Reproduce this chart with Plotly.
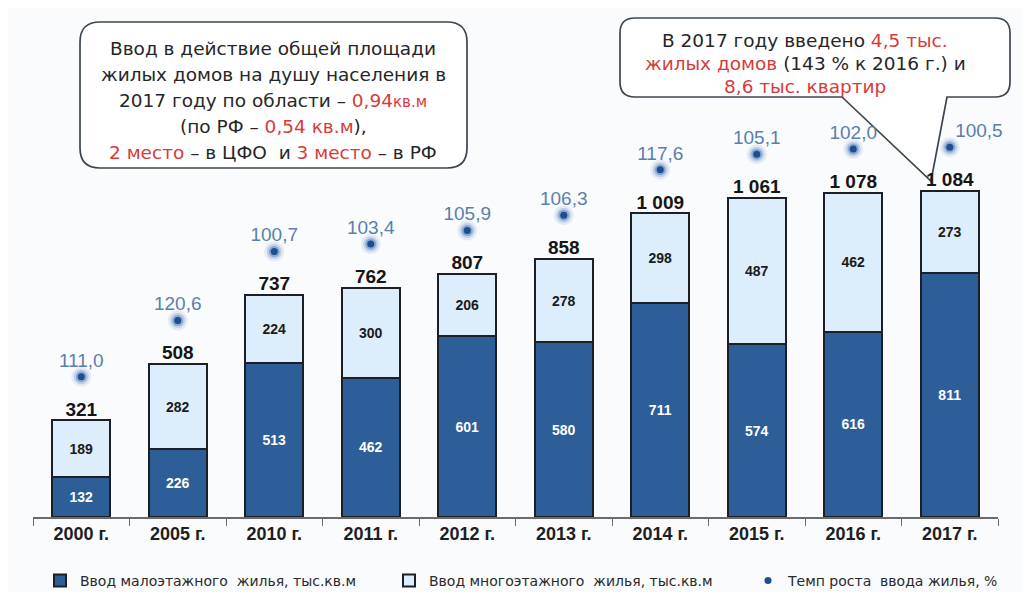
import plotly.graph_objects as go

years = ["2000 г.", "2005 г.", "2010 г.", "2011 г.", "2012 г.",
         "2013 г.", "2014 г.", "2015 г.", "2016 г.", "2017 г."]
low_rise = [132, 226, 513, 462, 601, 580, 711, 574, 616, 811]
multi_storey = [189, 282, 224, 300, 206, 278, 298, 487, 462, 273]
growth = [111.0, 120.6, 100.7, 103.4, 105.9, 106.3, 117.6, 105.1, 102.0, 100.5]

totals = [a + b for a, b in zip(low_rise, multi_storey)]
total_labels = [f"{t:,}".replace(",", " ") for t in totals]
growth_labels = [f"{g:.1f}".replace(".", ",") for g in growth]
# growth dots sit a fixed gap above each bar
dot_y = [t + 145 for t in totals]

# page body has an 8px margin, so the figure is 16px smaller than the window
OFF = 8
W, H = 1030 - 2 * OFF, 600 - 2 * OFF
L, R, T, B = 25, 24, 2, 75
PW, PH = W - L - R, H - T - B
def px(x):
    # page x -> paper x
    return (x - OFF - L) / PW
def py(y):
    # page y -> paper y
    return (H - B - (y - OFF)) / PH

RED = "#d83a3a"
TXT = "#262626"
DARK = "#2e5e98"
LIGHT = "#dcedfb"
EDGE = "#1c1f26"
NARROW = "Liberation Sans Narrow, Liberation Sans, Arial"

fig = go.Figure()
fig.add_trace(go.Bar(
    x=years, y=low_rise, name="Ввод малоэтажного  жилья, тыс.кв.м",
    marker=dict(color=DARK, line=dict(color=EDGE, width=2)),
    text=[f"<b>{v}</b>" for v in low_rise], textposition="inside", insidetextanchor="middle",
    textangle=0, textfont=dict(color="white", size=14, family=NARROW),
))
fig.add_trace(go.Bar(
    x=years, y=multi_storey, name="Ввод многоэтажного  жилья, тыс.кв.м",
    marker=dict(color=LIGHT, line=dict(color=EDGE, width=2)),
    text=[f"<b>{v}</b>" for v in multi_storey], textposition="inside", insidetextanchor="middle",
    textangle=0, textfont=dict(color="#1a1a1a", size=14, family=NARROW),
))
fig.add_trace(go.Scatter(
    x=years, y=totals, mode="text", text=[f"<b>{s}</b>" for s in total_labels],
    textposition="top center", showlegend=False, hoverinfo="skip", cliponaxis=False,
    textfont=dict(size=19, color="#151515", family="Liberation Sans"),
))
# soft glow around the growth dots
for size, alpha in ((20, 0.10), (15, 0.20), (11, 0.38)):
    fig.add_trace(go.Scatter(
        x=years, y=dot_y, mode="markers", showlegend=False, hoverinfo="skip",
        marker=dict(size=size, color=f"rgba(50,100,175,{alpha})"),
    ))
fig.add_trace(go.Scatter(
    x=years, y=dot_y, mode="markers+text", name="Темп роста  ввода жилья, %",
    legend="legend2", cliponaxis=False,
    text=growth_labels, textposition=["top center"] * 9 + ["top right"],
    textfont=dict(size=19, color="#5a7fab", family="Liberation Sans"),
    marker=dict(size=7, color="#1f4e8c"),
))

x0, y0, x1, y1, r = 80, 22, 467, 168, 20
path1 = (f"M {px(x0+r)},{py(y0)} L {px(x1-r)},{py(y0)} Q {px(x1)},{py(y0)} {px(x1)},{py(y0+r)} "
         f"L {px(x1)},{py(y1-r)} Q {px(x1)},{py(y1)} {px(x1-r)},{py(y1)} "
         f"L {px(x0+r)},{py(y1)} Q {px(x0)},{py(y1)} {px(x0)},{py(y1-r)} "
         f"L {px(x0)},{py(y0+r)} Q {px(x0)},{py(y0)} {px(x0+r)},{py(y0)} Z")
x0, y0, x1, y1, r = 620, 18, 1010, 97, 15
path2 = (f"M {px(x0+r)},{py(y0)} L {px(x1-r)},{py(y0)} Q {px(x1)},{py(y0)} {px(x1)},{py(y0+r)} "
         f"L {px(x1)},{py(y1-r)} Q {px(x1)},{py(y1)} {px(x1-r)},{py(y1)} "
         f"L {px(947)},{py(y1)} L {px(931)},{py(181)} L {px(842)},{py(y1)} "
         f"L {px(x0+r)},{py(y1)} Q {px(x0)},{py(y1)} {px(x0)},{py(y1-r)} "
         f"L {px(x0)},{py(y0+r)} Q {px(x0)},{py(y0)} {px(x0+r)},{py(y0)} Z")
for p in (path1, path2):
    fig.add_shape(type="path", path=p, xref="paper", yref="paper",
                  fillcolor="white", line=dict(color="#3d4550", width=1.7), layer="below")

def red(s):
    return f"<span style='color:{RED}'>{s}</span>"

lines1 = [
    "Ввод в действие общей площади",
    "жилых домов на душу населения в",
    "2017 году по области – " + red("0,94") + red("<span style='font-size:15px'>кв.м</span>"),
    "(по РФ – " + red("0,54 кв.м") + "),",
    red("2 место") + " – в ЦФО  и " + red("3 место") + " – в РФ",
]
for i, s in enumerate(lines1):
    fig.add_annotation(x=px(273), y=py(48 + 26.2 * i), xref="paper", yref="paper",
                       text=s, showarrow=False, xanchor="center", yanchor="middle",
                       font=dict(size=18.5, color=TXT, family="DejaVu Sans"))
lines2 = [
    "В 2017 году введено " + red("4,5 тыс."),
    red("жилых домов") + " (143 % к 2016 г.) и",
    red("8,6 тыс. квартир"),
]
for i, s in enumerate(lines2):
    fig.add_annotation(x=px(805), y=py(41 + 22.5 * i), xref="paper", yref="paper",
                       text=s, showarrow=False, xanchor="center", yanchor="middle",
                       font=dict(size=18.5, color=TXT, family="DejaVu Sans"))

legend_font = dict(size=14, color="#2a2a2a", family="DejaVu Sans")
fig.update_layout(
    width=W, height=H,
    margin=dict(l=L, r=R, t=T, b=B, autoexpand=False),
    barmode="stack", bargap=0.4,
    paper_bgcolor="#f9fbfd", plot_bgcolor="rgba(0,0,0,0)",
    font=dict(family="Liberation Sans", color=TXT),
    xaxis=dict(range=[-0.5, 9.5], showline=True, linecolor="#6b6b6b", linewidth=1.5,
               ticks="outside", tickson="boundaries", ticklen=7, tickcolor="#6b6b6b",
               tickfont=dict(size=18, color="#1e1e1e", family="Liberation Sans"),
               tickvals=years, ticktext=[f"<b>{y}</b>" for y in years]),
    yaxis=dict(range=[0, 1685], visible=False, showgrid=False),
    legend=dict(orientation="h", x=px(40), y=py(581), yanchor="middle", xanchor="left",
                traceorder="normal", itemwidth=30, entrywidth=304, bgcolor="rgba(0,0,0,0)",
                font=legend_font),
    legend2=dict(orientation="h", x=px(748), y=py(581), yanchor="middle", xanchor="left",
                 itemwidth=30, bgcolor="rgba(0,0,0,0)", font=legend_font),
    showlegend=True,
)

fig.write_html("out.html")
